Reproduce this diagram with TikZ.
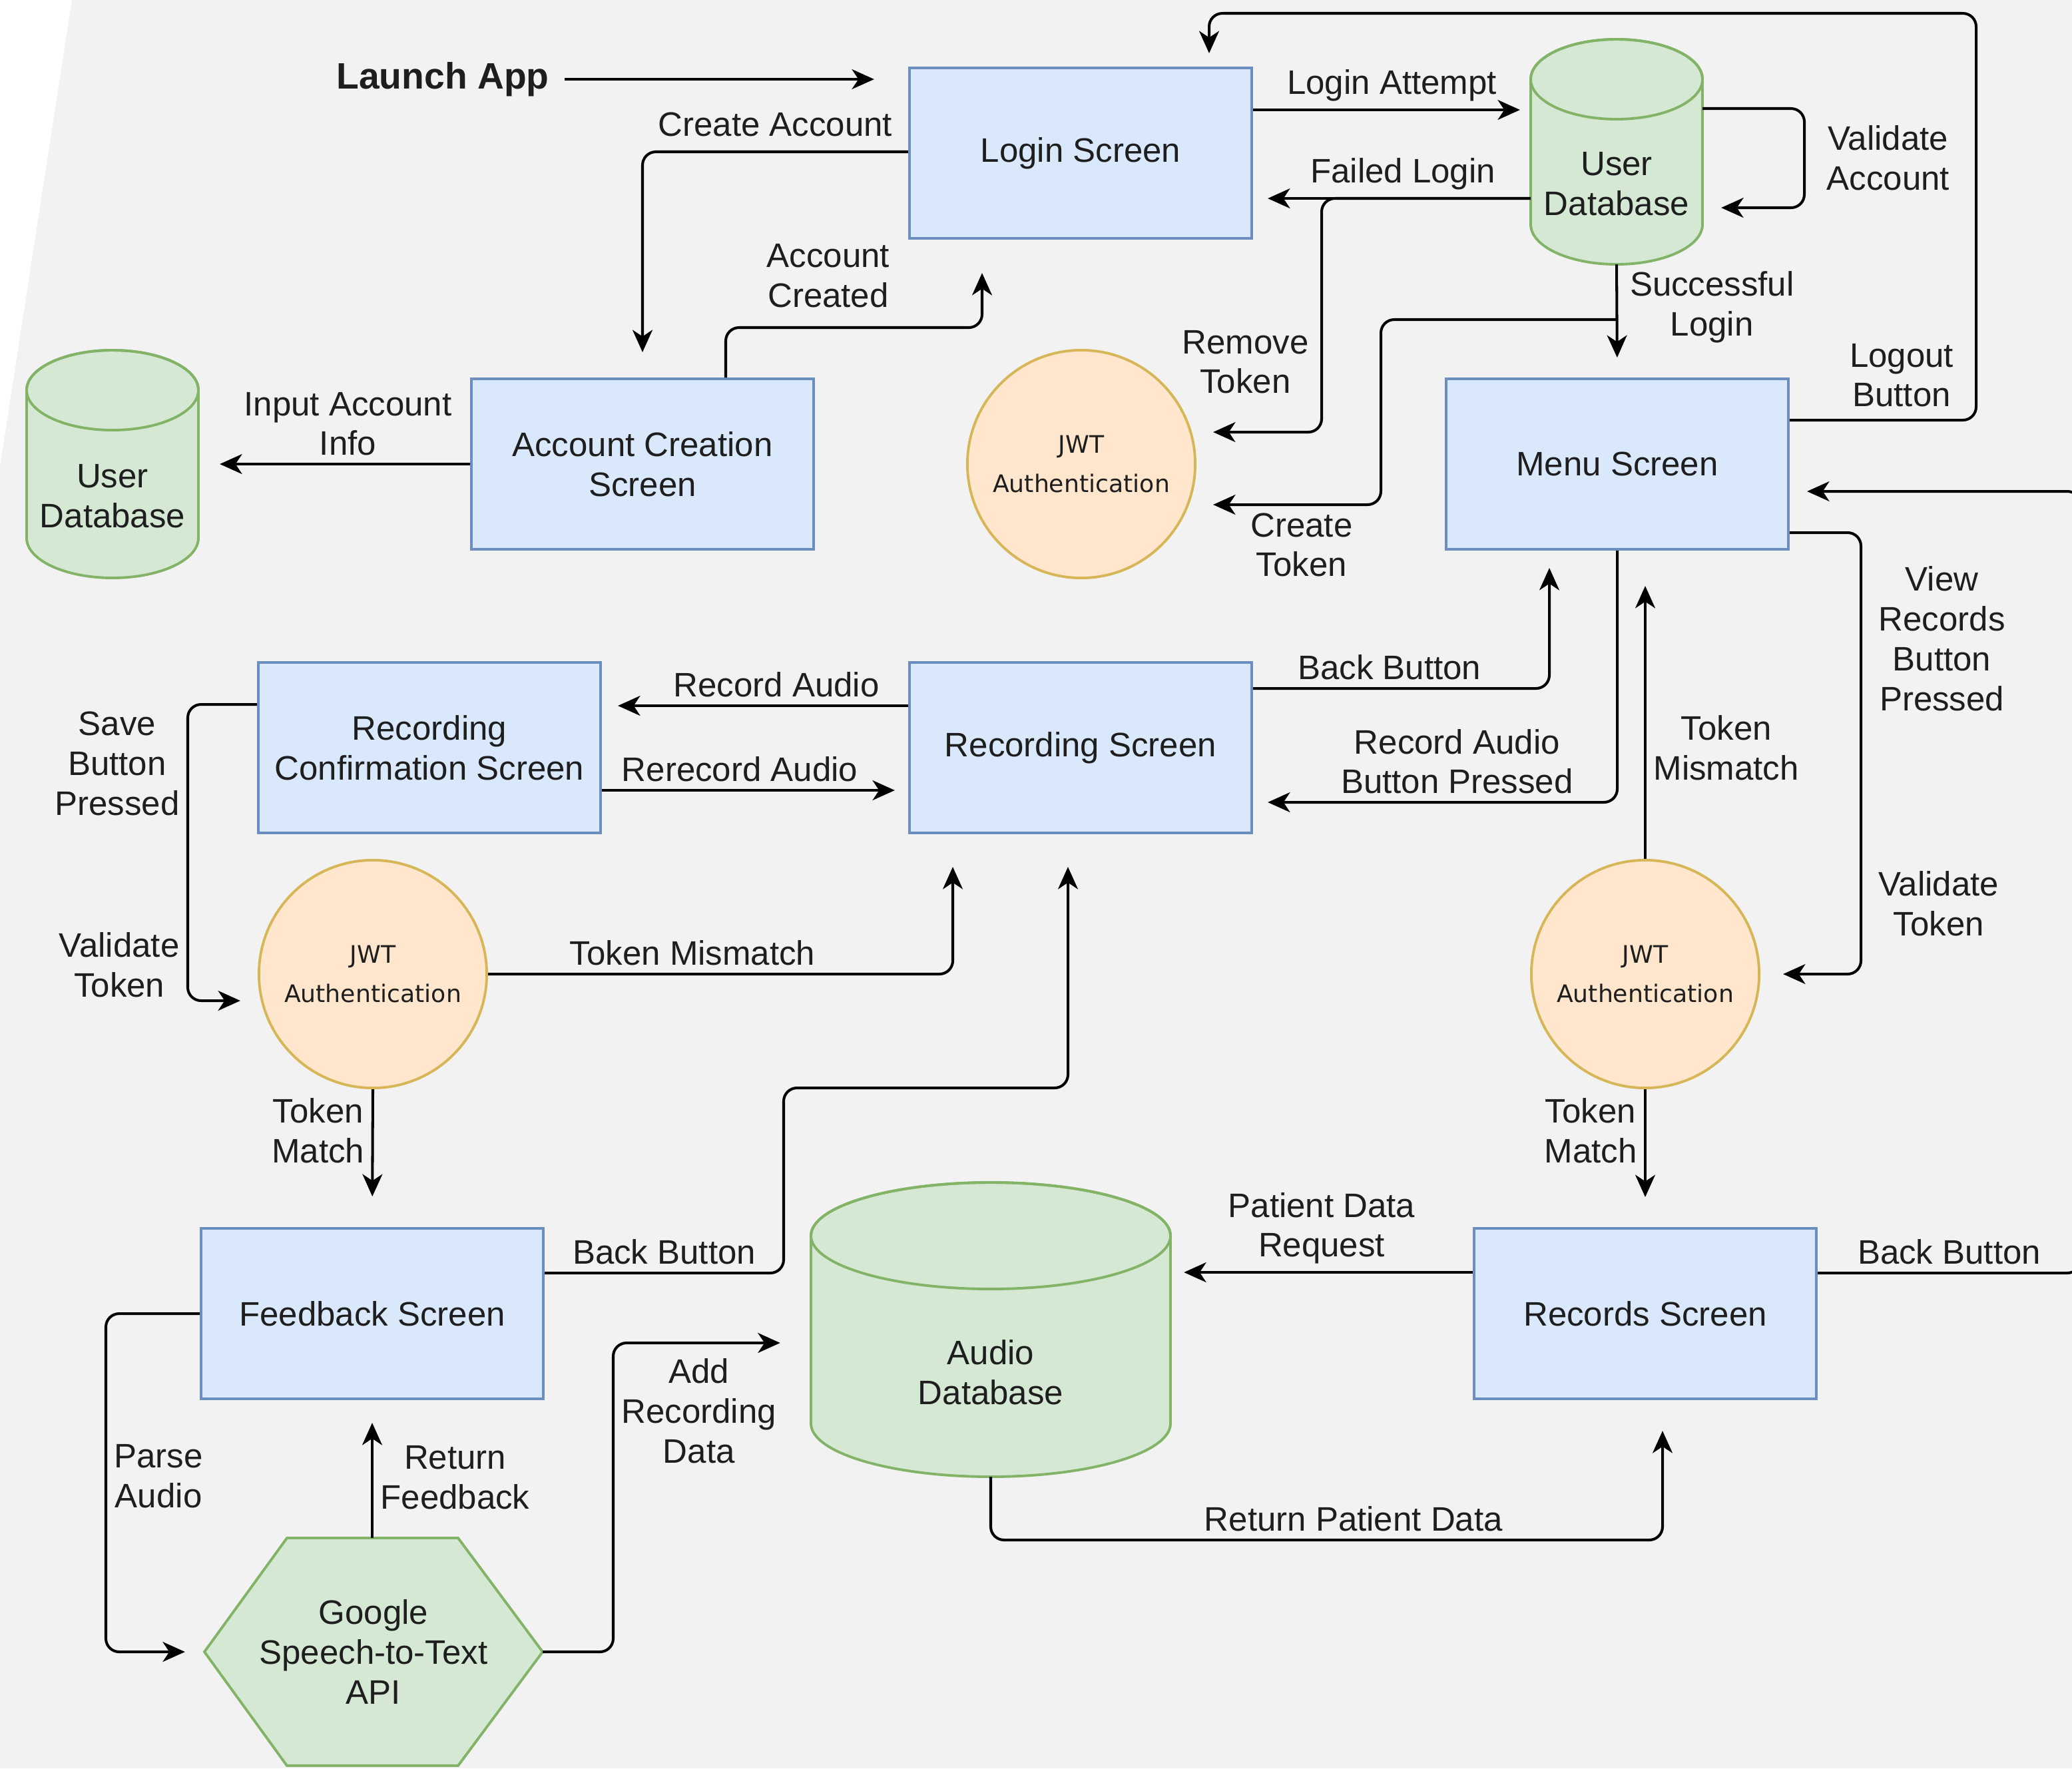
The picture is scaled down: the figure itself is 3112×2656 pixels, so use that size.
\documentclass[tikz,border=0pt]{standalone}
\usepackage{fontspec}
\setmainfont{Liberation Sans}
\newfontfamily\jwtfamily{DejaVu Sans}
\usepackage{tikz}
\usetikzlibrary{arrows.meta}
\definecolor{bgcol}{HTML}{F2F2F2}
\definecolor{boxfill}{HTML}{DAE8FC}
\definecolor{boxline}{HTML}{6C8EBF}
\definecolor{dbfill}{HTML}{D5E8D4}
\definecolor{dbline}{HTML}{82B366}
\definecolor{jwtfill}{HTML}{FFE6CC}
\definecolor{jwtline}{HTML}{D6B656}
\definecolor{txt}{HTML}{1E1E1E}
\newcommand{\lblfont}{\fontsize{14.5}{17}\selectfont}
\tikzstyle{screen}=[rectangle,draw=boxline,fill=boxfill,line width=1.1pt,minimum width=5.14cm,minimum height=2.56cm,align=center,text=txt,font=\lblfont]
\tikzstyle{jwt}=[circle,draw=jwtline,fill=jwtfill,line width=1.1pt,minimum size=3.42cm,inner sep=0pt,align=center,text=txt,font=\jwtfamily\fontsize{10.3}{17}\selectfont]
\tikzstyle{dbbox}=[rectangle,inner sep=0pt,outer sep=0pt]
\tikzstyle{dbtxt}=[align=center,text=txt,font=\lblfont]
\tikzstyle{launch}=[text=txt,inner sep=6.5pt,font=\fontsize{15.7}{19}\selectfont\bfseries]
\tikzstyle{flow}=[draw,line width=1.15pt,rounded corners=0.2cm,-{Stealth[length=9.5pt,width=8.5pt,inset=2.8pt]}]
\tikzstyle{lbl}=[align=center,text=txt,font=\lblfont,inner sep=3pt]
% database cylinder: name, x, y, half width, half height, cap, text
\newcommand{\dbcyl}[7]{%
  \filldraw[fill=dbfill,draw=dbline,line width=1.1pt] (#2-#4,#3-#5+#6) -- (#2-#4,#3+#5-#6)
    arc[start angle=180,end angle=0,x radius=#4,y radius=#6] -- (#2+#4,#3-#5+#6)
    arc[start angle=0,end angle=-180,x radius=#4,y radius=#6] -- cycle;
  \draw[dbline,line width=1.1pt] (#2,#3-#5+#6) ellipse[x radius=#4,y radius=#6];
  \node[dbbox,minimum width=#4*0.02cm,minimum height=#5*0.02cm] (#1) at (#2,#3) {};
  \node[dbtxt] (#1txt) at (#2,#3+0.8*#6) {#7};
}

\begin{document}
\begin{tikzpicture}[x=0.01cm,y=-0.01cm]
    \useasboundingbox (0,0) rectangle (3112,2656);
    \fill[bgcol] (0,0) rectangle (3112,2656);
    \fill[white] (0,0) -- (108,0) -- (0,700) -- cycle;

    % First the screens
    \foreach \pos/\name/\txt in {{(1623,230)/login/Login Screen},
    {(965,697)/acct/Account Creation\\Screen}, {(2429,697)/menu/Menu Screen},
    {(645,1123)/recconf/Recording\\Confirmation Screen}, {(1623,1123)/rec/Recording Screen},
    {(559,1973)/feedback/Feedback Screen}, {(2471,1973)/records/Records Screen}}
        \node[screen] (\name) at \pos {\txt};

    % Token checks
    \foreach \pos/\name in {{(1624,697)/jwttop}, {(560,1463)/jwtleft}, {(2471,1463)/jwtright}}
        \node[jwt] (\name) at \pos {JWT\\Authentication};

    % Databases and the speech api
    \dbcyl{userdb}{2428}{228}{129}{169}{60}{User\\Database}
    \dbcyl{userdbl}{169}{697}{129}{171}{60}{User\\Database}
    \dbcyl{audiodb}{1488}{1997}{270}{221}{80}{Audio\\Database}
    \filldraw[fill=dbfill,draw=dbline,line width=1.1pt] (307,2481) -- (431,2310) -- (688,2310)
        -- (815,2481) -- (688,2652) -- (431,2652) -- cycle;
    \node[dbbox,minimum width=5.08cm,minimum height=3.42cm,align=center,text=txt,font=\lblfont]
        (google) at (561,2481) {Google\\Speech-to-Text\\API};

    \node[launch] (launch) at (665,119) {Launch App};

    % Login part
    \draw[flow,shorten >=0.51cm] (launch.east) -- (launch.east -| login.west);
    \draw[flow,shorten >=0.38cm] (login.west |- 0,228) -| node[lbl,above,pos=0.25,yshift=3pt] (tCreate) {Create Account} (acct.north);
    \draw[flow,shorten >=0.5cm] (1090,0 |- acct.north) -- (1090,492) -| node[lbl,above,pos=0.2,yshift=5pt] (tCreated) {Account\\Created} (1475,0 |- login.south);
    \draw[flow,shorten >=0.32cm] (acct.west) -- node[lbl,above,pos=0.45] (tInput) {Input Account\\Info} (userdbl.east);
    \draw[flow,shorten >=0.16cm] (login.east |- 0,165) -- node[lbl,above] (tAttempt) {Login Attempt} (userdb.west |- 0,165);
    \draw[flow,shorten >=0.22cm] (userdb.west |- 0,298) -- node[lbl,above,pos=0.46] (tFailed) {Failed Login} (login.east |- 0,298);
    \draw[flow,shorten >=0.28cm] (userdb.east |- 0,163) -| node[lbl,right,pos=0.75,xshift=6pt] (tValAcc) {Validate\\Account} (2710,312) -- (userdb.east |- 0,312);
    \draw[flow,shorten >=0.25cm] (userdb.west |- 0,298) -- (1985,298) |- node[lbl,left,pos=0.35,xshift=-2pt] (tRemove) {Remove\\Token} (jwttop.east |- 0,649);
    \draw[flow,shorten >=0.3cm] (userdb.south) -- node[lbl,right,pos=0.38,xshift=2pt] (tSuccess) {Successful\\Login} (menu.north);
    \draw[flow,shorten >=0.25cm] (userdb.south |- 0,480) -| (2074,758) -- node[lbl,below,pos=0.43] (tCreateTok) {Create\\Token} (jwttop.east |- 0,758);
    \draw[flow,shorten >=0.2cm] (menu.east |- 0,631) -| node[lbl,above,pos=0.3,yshift=2pt] (tLogout) {Logout\\Button} (2968,20) -| (1816,0 |- login.north);

    % Menu and recording
    \draw[flow,shorten >=0.34cm] (menu.east |- 0,800) -| node[lbl,right,pos=0.62,xshift=4pt] (tView) {View\\Records\\Button\\Pressed}
        node[lbl,right,pos=0.92,xshift=4pt] (tValR) {Validate\\Token} (2795,1463) -- (jwtright.east);
    \draw[flow,shorten >=0.53cm] (jwtright.north) -- node[lbl,right,pos=0.36] (tMisR) {Token\\Mismatch} (jwtright.north |- menu.south);
    \draw[flow,shorten >=0.22cm] (menu.south) |- node[lbl,above,pos=0.72] (tRecBtn) {Record Audio\\Button Pressed} (rec.east |- 0,1205);
    \draw[flow,shorten >=0.26cm] (rec.east |- 0,1034) -| node[lbl,above,pos=0.23] (tBackM) {Back Button} (2327,0 |- menu.south);
    \draw[flow,shorten >=0.24cm] (rec.west |- 0,1060) -- node[lbl,above,pos=0.43] (tRecA) {Record Audio} (recconf.east |- 0,1060);
    \draw[flow,shorten >=0.2cm] (recconf.east |- 0,1187) -- node[lbl,above,pos=0.45] (tRerec) {Rerecord Audio} (rec.west |- 0,1187);
    \draw[flow,shorten >=0.26cm] (recconf.west |- 0,1058) -| node[lbl,left,pos=0.6] (tSave) {Save\\Button\\Pressed}
        node[lbl,left,pos=0.94] (tValL) {Validate\\Token} (282,1503) -- (jwtleft.west |- 0,1503);
    \draw[flow,shorten >=0.49cm] (jwtleft.east) -| node[lbl,above,pos=0.22] (tMisL) {Token Mismatch} (1431,0 |- rec.south);
    \draw[flow,shorten >=0.46cm] (jwtleft.south) -- node[lbl,left,pos=0.3] (tMatchL) {Token\\Match} (feedback.north);

    % Feedback and records
    \draw[flow,shorten >=0.49cm] (feedback.east |- 0,1912) -| node[lbl,above,pos=0.25] (tBackR) {Back Button} (1177,1634) -| (1604,0 |- rec.south);
    \draw[flow,shorten >=0.29cm] (feedback.west) -| node[lbl,right,pos=0.74] (tParse) {Parse\\Audio} (159,2481) -- (google.west);
    \draw[flow,shorten >=0.34cm] (feedback.south |- google.north) -- node[lbl,right,pos=0.44] (tReturnF) {Return\\Feedback} (feedback.south);
    \draw[flow,shorten >=0.46cm] (google.east) -| node[lbl,right,pos=0.89] (tAdd) {Add\\Recording\\Data} (921,2017) -- (audiodb.west |- 0,2017);
    \draw[flow,shorten >=0.2cm] (records.west |- 0,1911) -- node[lbl,above] (tPatReq) {Patient Data\\Request} (audiodb.east |- 0,1911);
    \draw[flow,shorten >=0.46cm] (audiodb.south) |- node[lbl,above,pos=0.77] (tPatRet) {Return Patient Data} (2497,2313) -- (2497,0 |- records.south);
    \draw[flow,shorten >=0.45cm] (jwtright.south) -- node[lbl,left,pos=0.3] (tMatchR) {Token\\Match} (records.north);
    \draw[flow,shorten >=0.26cm] (records.east |- 0,1912) -| node[lbl,above,pos=0.25] (tBackRec) {Back Button} (3125,738) -- (menu.east |- 0,738);
\end{tikzpicture}
\end{document}
